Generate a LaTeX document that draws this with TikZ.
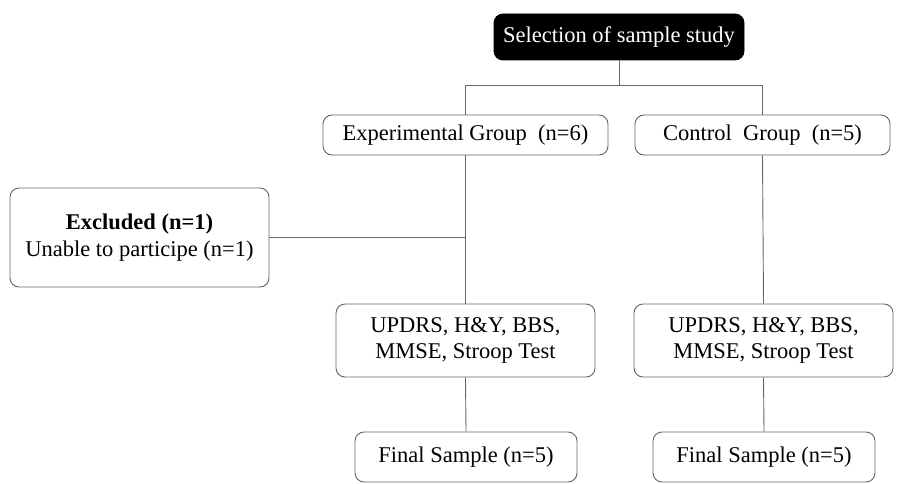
\documentclass[tikz,border=0pt]{standalone}
\usepackage{fontspec}
\setmainfont{Liberation Serif}
\begin{document}
\begin{tikzpicture}[x=1pt,y=-1pt,
  box/.style={draw=black!60, line width=0.9pt, rounded corners=9pt, fill=white, align=center, inner sep=0pt,
    font=\fontsize{22.5}{26.5}\selectfont},
  topbox/.style={box, draw=black, fill=black, text=white},
  conn/.style={draw=black!60, line width=0.9pt}]
\useasboundingbox (0,0) rectangle (907,484);
\node[topbox, minimum width=250, minimum height=46] (top) at (619,37) {Selection of sample study};
\node[box, minimum width=285, minimum height=40] (exp) at (465.5,135) {Experimental Group~~(n=6)};
\node[box, minimum width=255, minimum height=40] (ctl) at (762.5,135) {Control~~Group~~(n=5)};
\node[box, minimum width=259, minimum height=99] (exc) at (139.5,237.5) {\textbf{Excluded (n=1)}\\Unable to participe (n=1)};
\node[box, minimum width=259, minimum height=73] (ue) at (465.5,340.5) {UPDRS, H\&Y, BBS,\\MMSE, Stroop Test};
\node[box, minimum width=259, minimum height=73] (uc) at (763.5,340.5) {UPDRS, H\&Y, BBS,\\MMSE, Stroop Test};
\node[box, minimum width=222, minimum height=50] (fe) at (466,457) {Final Sample (n=5)};
\node[box, minimum width=222, minimum height=50] (fc) at (764,457) {Final Sample (n=5)};
\coordinate (split) at (top.south |- 0,85);
\coordinate (ej) at (exp.south |- exc.east);
\draw[conn] (top.south) -- (split);
\draw[conn] (exp.north) -- (exp.north |- split) -- (ctl.north |- split) -- (ctl.north);
\draw[conn] (exp.south) -- (ue.north);
\draw[conn] (exc.east) -- (ej);
\draw[conn] (ctl.south) -- (uc.north);
\draw[conn] (ue.south) -- (fe.north);
\draw[conn] (uc.south) -- (fc.north);
\end{tikzpicture}
\end{document}
